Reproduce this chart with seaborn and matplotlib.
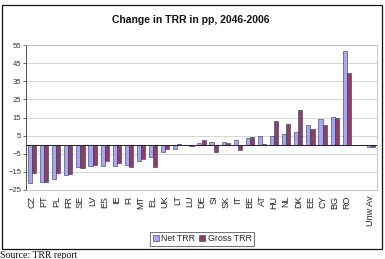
import pandas as pd
import numpy as np
import matplotlib.pyplot as plt
import seaborn as sns
from matplotlib.patches import Rectangle

countries = ['CZ', 'PT', 'PL', 'FR', 'SE', 'LV', 'ES', 'IE', 'FI', 'MT', 'EL', 'UK', 'LT', 'LU',
             'DE', 'SI', 'SK', 'IT', 'BE', 'AT', 'HU', 'NL', 'DK', 'EE', 'CY', 'BG', 'RO', ' ', 'Unw Av']
net_trr = [-21.0, -20.4, -19.2, -16.6, -12.5, -12.0, -11.8, -11.6, -11.1, -9.0, -7.0, -3.9, -2.6, -0.3,
           0.9, 1.7, 1.7, 2.8, 3.9, 5.0, 5.0, 6.1, 7.2, 11.1, 14.4, 15.5, 51.5, np.nan, -1.1]
gross_trr = [-15.5, -20.4, -15.5, -16.0, -12.7, -11.3, -8.9, -10.3, -12.5, -7.7, -12.2, -2.2, 0.3, -0.5,
             2.6, -4.2, 1.1, -3.1, 4.4, 0.6, 12.9, 11.6, 19.4, 8.9, 11.1, 14.9, 39.3, np.nan, -1.3]
series = ['Net TRR', 'Gross TRR']
yticks = [-25, -15, -5, 5, 15, 25, 35, 45, 55]

df = pd.DataFrame({'country': countries, 'Net TRR': net_trr, 'Gross TRR': gross_trr})
df = df.melt(id_vars='country', var_name='series', value_name='change').dropna()

sns.set_theme(style="white")
plt.rcParams['font.family'] = ['Liberation Sans', 'DejaVu Sans']

fig = plt.figure(figsize=(3.85, 2.59), dpi=100)
ax = fig.add_axes([26 / 385, 69 / 259, 351 / 385, 145 / 259])

sns.barplot(data=df, x='country', y='change', hue='series', order=countries, hue_order=series,
            palette=['#9999FF', '#993366'], edgecolor='#333355', linewidth=0.4,
            width=0.68, ax=ax, errorbar=None, zorder=3)

ax.set_ylim(-25, 55)
ax.set_yticks(yticks)
ax.set_xlim(-0.5, len(countries) - 0.5)
ax.yaxis.grid(True, color='#D0D0D0', linewidth=0.6, zorder=0)
ax.axhline(0, color='#222222', linewidth=0.7, zorder=4)
ax.set_xlabel('')
ax.set_ylabel('')
ax.tick_params(axis='y', labelsize=5.5, length=2, width=0.5, colors='#333333', pad=1.5, left=True)
ax.tick_params(axis='x', labelsize=6.5, length=0, pad=4, labelrotation=90, colors='#222222')
for s in ['top', 'right', 'bottom']:
    ax.spines[s].set_color('#BBBBBB')
    ax.spines[s].set_linewidth(0.6)
ax.spines['left'].set_color('#333333')
ax.spines['left'].set_linewidth(0.6)

ax.legend(loc='lower center', bbox_to_anchor=(202 / 385, 13 / 259), bbox_transform=fig.transFigure,
          ncol=2, fontsize=6.3, frameon=True, edgecolor='#333333', fancybox=False,
          handlelength=0.7, handleheight=0.7, handletextpad=0.3, columnspacing=0.4,
          borderpad=0.3, borderaxespad=0)
ax.get_legend().get_frame().set_linewidth(0.6)

fig.text(191 / 385, 1 - 20 / 259, 'Change in TRR in pp, 2046-2006', ha='center', va='center',
         fontsize=7.5, fontweight='bold', color='#111111')
fig.patches.append(Rectangle((2 / 385, 10 / 259), 380 / 385, 244 / 259, transform=fig.transFigure,
                             fill=False, edgecolor='#111111', linewidth=0.9))
fig.text(0.0, 8 / 259, 'Source: TRR report', ha='left', va='top', fontsize=7,
         family=['Liberation Serif', 'DejaVu Serif'], color='#111111')

fig.savefig('out.png', dpi=100)
